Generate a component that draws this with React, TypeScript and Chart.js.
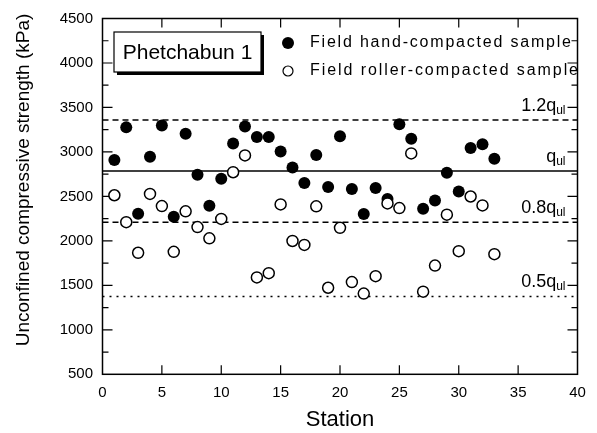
import React, { useEffect, useRef } from "react";
import { Chart, registerables } from "chart.js";

Chart.register(...registerables);

const FONT = "'Liberation Sans', Arial, sans-serif";

// ---- data ----
const stations = [1, 2, 3, 4, 5, 6, 7, 8, 9, 10, 11, 12, 13, 14, 15, 16, 17, 18, 19, 20, 21, 22, 23, 24, 25, 26, 27, 28, 29, 30, 31, 32, 33];
const handValues = [2910, 3276, 2306, 2946, 3298, 2272, 3205, 2743, 2395, 2699, 3094, 3287, 3168, 3168, 3005, 2824, 2650, 2965, 2606, 3176, 2583, 2302, 2594, 2472, 3312, 3149, 2361, 2454, 2765, 2554, 3043, 3087, 2924];
const rollerValues = [2513, 2210, 1866, 2528, 2391, 1877, 2332, 2155, 2029, 2247, 2772, 2961, 1589, 1637, 2410, 1999, 1955, 2388, 1473, 2147, 1537, 1407, 1603, 2421, 2369, 2983, 1429, 1722, 2295, 1884, 2499, 2399, 1851];

const refPrefixes = ["1.2", "", "0.8", "0.5"];
const refValues = [3360, 2785, 2210, 1375];
const refDashes: number[][] = [[6, 4], [], [6, 4], [2, 5]];

const xMin = 0, xMax = 40, xStep = 5;
const yMin = 500, yMax = 4500, yStep = 500, yMinorStep = 250;

const seriesLabels = ["Field hand-compacted sample", "Field roller-compacted sample"];
const boxTitle = "Phetchabun 1";
const xTitle = "Station";
const yTitle = "Unconfined compressive strength (kPa)";

function spacedText(ctx: CanvasRenderingContext2D, text: string, x: number, y: number, targetW: number) {
  const chars = Array.from(text);
  const natural = ctx.measureText(text).width;
  const gap = Math.max(0, (targetW - natural) / (chars.length - 1));
  let cx = x;
  for (const ch of chars) {
    ctx.fillText(ch, cx, y);
    cx += ctx.measureText(ch).width + gap;
  }
}

const framePlugin = {
  id: "framePlugin",
  beforeDatasetsDraw(chart: any) {
    const { ctx, chartArea: a, scales } = chart;
    const x = scales.x, y = scales.y;
    ctx.save();
    ctx.strokeStyle = "#000";
    ctx.lineWidth = 1.5;
    ctx.strokeRect(a.left, a.top, a.right - a.left, a.bottom - a.top);
    ctx.lineWidth = 1.2;
    ctx.beginPath();
    for (let v = yMin + yMinorStep; v < yMax; v += yMinorStep) {
      const py = y.getPixelForValue(v);
      const len = v % yStep === 0 ? 10 : 6;
      ctx.moveTo(a.left, py); ctx.lineTo(a.left + len, py);
      ctx.moveTo(a.right, py); ctx.lineTo(a.right - len, py);
    }
    for (let v = xMin + xStep; v < xMax; v += xStep) {
      const px = x.getPixelForValue(v);
      ctx.moveTo(px, a.top); ctx.lineTo(px, a.top + 9);
      ctx.moveTo(px, a.bottom); ctx.lineTo(px, a.bottom - 9);
    }
    ctx.stroke();
    ctx.restore();
  },
  afterDraw(chart: any) {
    const { ctx, chartArea: a, scales } = chart;
    const y = scales.y;
    ctx.save();
    ctx.fillStyle = "#000";
    ctx.strokeStyle = "#000";

    // y title
    ctx.save();
    ctx.translate(24, 180);
    ctx.rotate(-Math.PI / 2);
    ctx.font = `19px ${FONT}`;
    ctx.textAlign = "center";
    ctx.textBaseline = "middle";
    ctx.fillText(yTitle, 0, 0);
    ctx.restore();

    // reference line labels
    const xEnd = a.right - 12;
    refValues.forEach((v, i) => {
      const py = y.getPixelForValue(v);
      ctx.font = `12px ${FONT}`;
      const subW = ctx.measureText("ul").width;
      ctx.textAlign = "left";
      ctx.textBaseline = "alphabetic";
      ctx.fillText("ul", xEnd - subW, py - 6);
      ctx.font = `18px ${FONT}`;
      ctx.textAlign = "right";
      ctx.fillText(refPrefixes[i] + "q", xEnd - subW, py - 9);
    });

    // title box with shadow
    const bx = 114, by = 32, bw = 147, bh = 40;
    ctx.fillRect(bx + 3, by + 3, bw, bh);
    ctx.fillStyle = "#fff";
    ctx.fillRect(bx, by, bw, bh);
    ctx.lineWidth = 1.2;
    ctx.strokeRect(bx, by, bw, bh);
    ctx.fillStyle = "#000";
    ctx.font = `21px ${FONT}`;
    ctx.textAlign = "center";
    ctx.textBaseline = "middle";
    ctx.fillText(boxTitle, bx + bw / 2, by + bh / 2 + 1);

    // legend
    const lx = 288, rows = [43, 71];
    ctx.beginPath();
    ctx.arc(lx, rows[0], 6, 0, Math.PI * 2);
    ctx.fill();
    ctx.beginPath();
    ctx.arc(lx, rows[1], 5, 0, Math.PI * 2);
    ctx.fillStyle = "#fff";
    ctx.fill();
    ctx.lineWidth = 1.2;
    ctx.stroke();
    ctx.fillStyle = "#000";
    ctx.font = `16px ${FONT}`;
    ctx.textAlign = "left";
    ctx.textBaseline = "middle";
    spacedText(ctx, seriesLabels[0], 310, rows[0], 261);
    spacedText(ctx, seriesLabels[1], 310, rows[1], 268);
    ctx.restore();
  },
};

export default function App() {
  const ref = useRef<HTMLCanvasElement | null>(null);
  useEffect(() => {
    if (!ref.current) return;
    const refDatasets = refValues.map((v, i) => ({
      type: "line" as const,
      data: [{ x: xMin, y: v }, { x: xMax, y: v }],
      borderColor: "#000",
      borderWidth: 1.5,
      borderDash: refDashes[i],
      pointRadius: 0,
      fill: false,
    }));
    const chart = new Chart(ref.current, {
      type: "scatter",
      data: {
        datasets: [
          {
            label: seriesLabels[1],
            data: stations.map((s, i) => ({ x: s, y: rollerValues[i] })),
            pointRadius: 5.5,
            pointBackgroundColor: "#fff",
            pointBorderColor: "#000",
            pointBorderWidth: 1.5,
          },
          {
            label: seriesLabels[0],
            data: stations.map((s, i) => ({ x: s, y: handValues[i] })),
            pointRadius: 6,
            pointBackgroundColor: "#000",
            pointBorderColor: "#000",
            pointBorderWidth: 0,
          },
          ...refDatasets,
        ] as any,
      },
      options: {
        animation: false,
        responsive: false,
        events: [],
        layout: { padding: { top: 14, right: 19.5, left: 0, bottom: 0 } },
        plugins: { legend: { display: false }, tooltip: { enabled: false } },
        scales: {
          x: {
            type: "linear",
            min: xMin,
            max: xMax,
            ticks: { stepSize: xStep, padding: 10, color: "#000", font: { size: 15, family: FONT }, callback: (v: any) => String(v) },
            grid: { display: false, drawTicks: false },
            border: { display: false },
            title: { display: true, text: xTitle, color: "#000", font: { size: 22, family: FONT }, padding: { top: 0, bottom: 0 } },
            afterFit(s: any) { s.height = 58.7; },
          },
          y: {
            type: "linear",
            min: yMin,
            max: yMax,
            ticks: { stepSize: yStep, padding: 9.5, color: "#000", font: { size: 15, family: FONT }, callback: (v: any) => String(v) },
            grid: { display: false, drawTicks: false },
            border: { display: false },
            afterFit(s: any) { s.width = 102.5; },
          },
        },
      } as any,
      plugins: [framePlugin],
    });
    return () => chart.destroy();
  }, []);
  return (
    <div style={{ position: "absolute", left: 0, top: 0, width: 597, height: 433, background: "#fff" }}>
      <canvas ref={ref} width={597} height={433} style={{ display: "block", width: 597, height: 433 }} />
    </div>
  );
}
